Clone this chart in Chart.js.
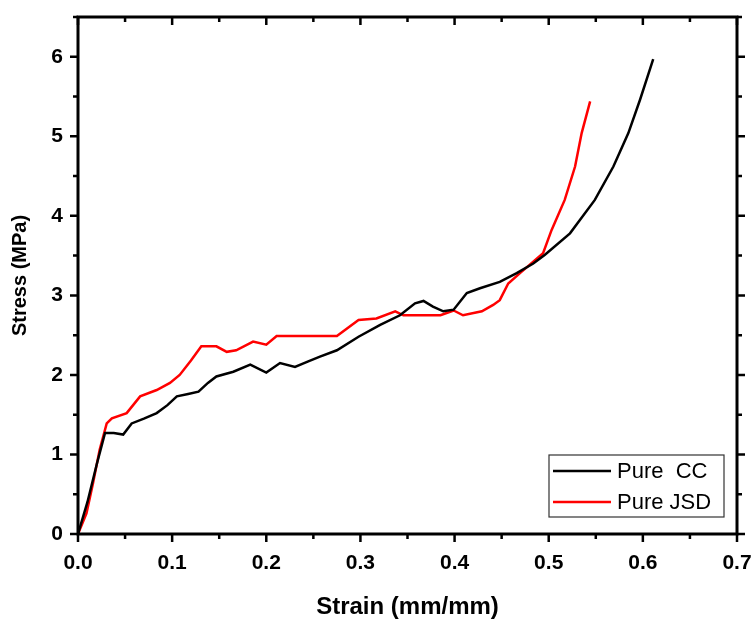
<!DOCTYPE html>
<html>
<head>
<meta charset="utf-8">
<script src="https://cdn.jsdelivr.net/npm/chart.js@4.4.1/dist/chart.umd.min.js"></script>
<style>
    body { margin: 0; background: #ffffff; }
    #wrap { width: 753px; height: 619px; position: relative; }
</style>
</head>
<body>
<div id="wrap"><canvas id="StressChart"></canvas></div>
<script>
// Values
var ccStrain = [0, 0.010, 0.020, 0.0287, 0.038, 0.048, 0.057, 0.070, 0.0836, 0.095, 0.105, 0.117, 0.128, 0.138, 0.147, 0.165, 0.183, 0.200, 0.2146, 0.2305, 0.2446, 0.257, 0.275, 0.298, 0.321, 0.342, 0.358, 0.367, 0.377, 0.388, 0.399, 0.413, 0.427, 0.448, 0.466, 0.4836, 0.496, 0.5226, 0.549, 0.5687, 0.5846, 0.597, 0.611];
var ccStress = [0, 0.40, 0.88, 1.27, 1.27, 1.25, 1.39, 1.45, 1.52, 1.62, 1.73, 1.76, 1.79, 1.90, 1.98, 2.04, 2.13, 2.03, 2.15, 2.10, 2.17, 2.23, 2.31, 2.48, 2.63, 2.75, 2.90, 2.93, 2.86, 2.80, 2.82, 3.03, 3.09, 3.17, 3.28, 3.40, 3.51, 3.78, 4.20, 4.62, 5.04, 5.46, 5.97];

var jsdStrain = [0, 0.009, 0.016, 0.023, 0.0305, 0.036, 0.0517, 0.066, 0.0836, 0.0977, 0.108, 0.120, 0.131, 0.147, 0.158, 0.168, 0.186, 0.200, 0.211, 0.236, 0.275, 0.298, 0.317, 0.337, 0.3456, 0.385, 0.399, 0.409, 0.429, 0.441, 0.448, 0.457, 0.4695, 0.494, 0.503, 0.517, 0.528, 0.535, 0.544];
var jsdStress = [0, 0.26, 0.64, 1.06, 1.39, 1.455, 1.52, 1.73, 1.81, 1.90, 2.00, 2.18, 2.36, 2.36, 2.29, 2.31, 2.42, 2.38, 2.49, 2.49, 2.49, 2.69, 2.71, 2.80, 2.75, 2.75, 2.81, 2.75, 2.80, 2.88, 2.94, 3.15, 3.28, 3.53, 3.82, 4.20, 4.62, 5.04, 5.44];

var seriesNames = ["Pure  CC", "Pure JSD"];
var seriesColors = ["#000000", "#ff0000"];

function toPoints(xs, ys){
    var pts = [];
    for(let i = 0; i < xs.length; i++){
        pts.push({x: xs[i], y: ys[i]});
    }
    return pts;
}

//Frame with ticks on all four sides
var framePlugin = {
    id: "frame",
    afterDraw: function(chart){
        var ctx = chart.ctx, a = chart.chartArea;
        var xs = chart.scales.x, ys = chart.scales.y;
        ctx.save();
        ctx.strokeStyle = "#000";
        ctx.lineWidth = 3;
        ctx.strokeRect(a.left, a.top, a.right - a.left, a.bottom - a.top);
        ctx.lineWidth = 2.5;
        ctx.beginPath();
        for(let i = 0; i <= 14; i++){
            var px = xs.getPixelForValue(i * 0.05);
            var len = (i % 2 === 0) ? 8 : 5;
            ctx.moveTo(px, a.bottom); ctx.lineTo(px, a.bottom + len);
            ctx.moveTo(px, a.top); ctx.lineTo(px, a.top + len);
        }
        for(let j = 0; j <= 13; j++){
            var py = ys.getPixelForValue(j * 0.5);
            var len2 = (j % 2 === 0) ? 8 : 5;
            ctx.moveTo(a.left, py); ctx.lineTo(a.left - len2, py);
            ctx.moveTo(a.right, py); ctx.lineTo(a.right + len2, py);
        }
        ctx.stroke();

        //Legend box
        var bx = 549, by = 455, bw = 175, bh = 62;
        ctx.fillStyle = "#fff";
        ctx.fillRect(bx, by, bw, bh);
        ctx.strokeStyle = "#333";
        ctx.lineWidth = 1.2;
        ctx.strokeRect(bx, by, bw, bh);
        ctx.font = "22px 'Liberation Sans', Arial, sans-serif";
        ctx.textBaseline = "middle";
        chart.data.datasets.forEach(function(ds, k){
            var ly = by + 16 + k * 31;
            ctx.strokeStyle = ds.borderColor;
            ctx.lineWidth = 2.5;
            ctx.beginPath();
            ctx.moveTo(bx + 4, ly);
            ctx.lineTo(bx + 62, ly);
            ctx.stroke();
            ctx.fillStyle = "#000";
            ctx.fillText(ds.label, bx + 68, ly + 1);
        });
        ctx.restore();
    }
};

var tickFont = { family: "'Liberation Sans', Arial, sans-serif", size: 21, weight: "bold" };
var xTitleFont = { family: "'Liberation Sans', Arial, sans-serif", size: 24, weight: "bold", lineHeight: 1.0 };
var yTitleFont = { family: "'Liberation Sans', Arial, sans-serif", size: 20, weight: "bold", lineHeight: 1.0 };

var config = {
    type: "scatter",
    data: {
        datasets: [{
            label: seriesNames[0],
            data: toPoints(ccStrain, ccStress),
            showLine: true,
            borderColor: seriesColors[0],
            backgroundColor: seriesColors[0],
            borderWidth: 2.5,
            pointRadius: 0,
            tension: 0
        }, {
            label: seriesNames[1],
            data: toPoints(jsdStrain, jsdStress),
            showLine: true,
            borderColor: seriesColors[1],
            backgroundColor: seriesColors[1],
            borderWidth: 2.5,
            pointRadius: 0,
            tension: 0
        }]
    },
    options: {
        responsive: true,
        maintainAspectRatio: false,
        animation: false,
        layout: { padding: { top: 17, right: 16, left: 0, bottom: 0 } },
        plugins: {
            legend: { display: false },
            tooltip: { enabled: false }
        },
        scales: {
            x: {
                type: "linear",
                min: 0,
                max: 0.7,
                afterFit: function(scale){
                    scale.height = 85;
                    scale.paddingLeft = 0;
                    scale.paddingRight = 0;
                },
                grid: { display: false, drawTicks: false },
                border: { display: false },
                ticks: {
                    stepSize: 0.1,
                    padding: 17,
                    color: "#000",
                    font: tickFont,
                    callback: function(v){ return v.toFixed(1); }
                },
                title: {
                    display: true,
                    text: "Strain (mm/mm)",
                    color: "#000",
                    font: xTitleFont,
                    padding: { top: 0, bottom: 0 }
                }
            },
            y: {
                type: "linear",
                min: 0,
                max: 6.5,
                afterFit: function(scale){
                    scale.width = 78;
                    scale.paddingTop = 0;
                    scale.paddingBottom = 0;
                },
                grid: { display: false, drawTicks: false },
                border: { display: false },
                ticks: {
                    stepSize: 1,
                    padding: 15,
                    color: "#000",
                    font: tickFont,
                    callback: function(v){ return Number.isInteger(v) ? v.toString() : ""; }
                },
                title: {
                    display: true,
                    text: "Stress (MPa)",
                    color: "#000",
                    font: yTitleFont,
                    padding: { top: 10, bottom: 0 }
                }
            }
        }
    },
    plugins: [framePlugin]
};

var canvasElement = document.getElementById("StressChart");
window.myChart = new Chart(canvasElement, config);
</script>
</body>
</html>
